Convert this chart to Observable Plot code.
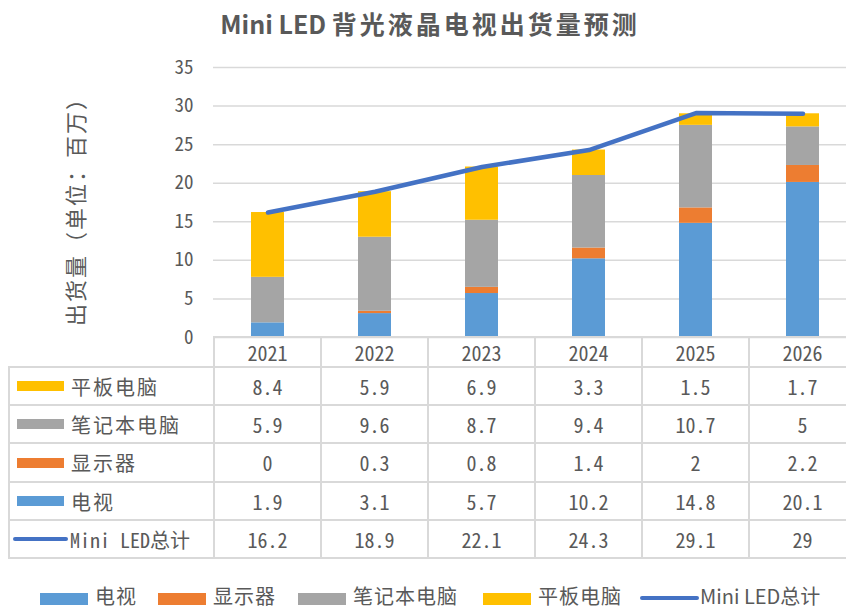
<!DOCTYPE html>
<html>
<head>
<meta charset="utf-8">
<script src="https://cdn.jsdelivr.net/npm/d3@7"></script>
<script src="https://cdn.jsdelivr.net/npm/@observablehq/plot@0.6"></script>
<style>
  html, body { margin: 0; padding: 0; background: #fff; width: 846px; height: 612px; overflow: hidden; }
  body { position: relative; }
  #chart { position: absolute; left: 0; top: 0; width: 860px; }
  #chart svg { max-width: none !important; }
  #title { position: absolute; left: 0; width: 860px; top: 5px; text-align: center; font-family: "Noto Sans CJK SC", sans-serif; font-weight: bold; font-size: 25px; color: #595959; white-space: nowrap; }
  #title .cjk { letter-spacing: 3px; }
  #ylabel { position: absolute; left: 74px; top: 206px; transform: translate(-50%, -50%) rotate(-90deg); font-family: "Noto Sans CJK SC", sans-serif; font-size: 22px; letter-spacing: 2px; color: #595959; white-space: nowrap; }
  .hline { position: absolute; height: 2px; background: #D9D9D9; }
  .vline { position: absolute; width: 2px; background: #D9D9D9; }
  .cell { position: absolute; display: flex; align-items: center; justify-content: center; font-family: "Noto Sans Mono CJK SC", "DejaVu Sans Mono", "Noto Sans CJK SC", monospace; font-size: 20px; color: #595959; white-space: nowrap; }
  .lab { position: absolute; display: flex; align-items: center; font-family: "Noto Sans Mono CJK SC", "DejaVu Sans Mono", "Noto Sans CJK SC", monospace; font-size: 20px; color: #595959; white-space: nowrap; }
  .leg { position: absolute; top: 586px; height: 20px; display: flex; align-items: center; font-family: "Noto Sans CJK SC", sans-serif; font-size: 20px; line-height: 20px; color: #595959; white-space: nowrap; }
  .leg span { line-height: 20px; }
</style>
</head>
<body>
<div id="chart"></div>
<div id="title"></div>
<div id="ylabel"></div>
<div id="table"></div>
<div id="legend"></div>
<script>
// ---- data ----
const titleLatin = "Mini LED ";
const titleCjk = "背光液晶电视出货量预测";
const yLabel = "出货量（单位：百万）";
const years = ["2021", "2022", "2023", "2024", "2025", "2026"];
const seriesNames = ["电视", "显示器", "笔记本电脑", "平板电脑"];
const lineName = "Mini LED总计";
const tvValues = [1.9, 3.1, 5.7, 10.2, 14.8, 20.1];
const monitorValues = [0, 0.3, 0.8, 1.4, 2, 2.2];
const laptopValues = [5.9, 9.6, 8.7, 9.4, 10.7, 5];
const tabletValues = [8.4, 5.9, 6.9, 3.3, 1.5, 1.7];
const totalValues = [16.2, 18.9, 22.1, 24.3, 29.1, 29];
const yTicks = [0, 5, 10, 15, 20, 25, 30, 35];
const seriesColors = ["#5B9BD5", "#ED7D31", "#A5A5A5", "#FFC000"];
const lineColor = "#4472C4";

const seriesValues = [tvValues, monitorValues, laptopValues, tabletValues];
const stacked = years.flatMap((yr, i) => seriesNames.map((s, k) => ({year: yr, series: s, value: seriesValues[k][i]})));
const totals = years.map((yr, i) => ({year: yr, total: totalValues[i]}));

const monoFont = '"Noto Sans Mono CJK SC", "DejaVu Sans Mono", "Noto Sans CJK SC", monospace';

const chart = Plot.plot({
  width: 860,
  height: 340,
  marginTop: 67,
  marginBottom: 3,
  marginLeft: 213,
  marginRight: 4,
  x: {domain: years, padding: 0, axis: null},
  y: {domain: [0, 35], ticks: yTicks, tickSize: 0, tickPadding: 20, label: null},
  color: {domain: seriesNames, range: seriesColors},
  style: {fontFamily: monoFont, fontSize: "19px", color: "#595959", background: "transparent", overflow: "visible", maxWidth: "none"},
  marks: [
    Plot.ruleY(yTicks, {stroke: "#D9D9D9", strokeWidth: 1.5}),
    Plot.barY(stacked, {x: "year", y: "value", fill: "series", insetLeft: 37, insetRight: 37}),
    Plot.lineY(totals, {x: "year", y: "total", stroke: lineColor, strokeWidth: 4.5, strokeLinecap: "round", strokeLinejoin: "round"})
  ]
});
document.getElementById("chart").appendChild(chart);

// title & y label
const t = document.getElementById("title");
t.textContent = titleLatin;
const sp = document.createElement("span"); sp.className = "cjk"; sp.textContent = titleCjk; t.appendChild(sp);
document.getElementById("ylabel").textContent = yLabel;

// ---- data table aligned to the x band scale ----
const xs = chart.scale("x");
const bw = xs.bandwidth;
const colLeft = years.map(y => xs.apply(y));
const x0 = colLeft[0];
const xEnd = colLeft[colLeft.length - 1] + bw;
const tableLeft = 9;
const rowEdges = [337, 367, 405, 443, 482, 520, 558];
const tableEl = document.getElementById("table");
function add(cls, css, text) {
  const d = document.createElement("div");
  d.className = cls;
  Object.assign(d.style, css);
  if (text !== undefined) d.textContent = text;
  tableEl.appendChild(d);
  return d;
}
rowEdges.forEach((y, r) => {
  const l = r === 0 ? x0 : tableLeft;
  add("hline", {left: (l - 1) + "px", top: (y - 1) + "px", width: (xEnd - l + 2) + "px"});
});
add("vline", {left: (tableLeft - 1) + "px", top: (rowEdges[1] - 1) + "px", height: (rowEdges[6] - rowEdges[1] + 2) + "px"});
[x0, ...colLeft.slice(1), xEnd].forEach(x => {
  add("vline", {left: (x - 1) + "px", top: (rowEdges[0] - 1) + "px", height: (rowEdges[6] - rowEdges[0] + 2) + "px"});
});
years.forEach((yr, i) => add("cell", {left: colLeft[i] + "px", top: rowEdges[0] + "px", width: bw + "px", height: (rowEdges[1] - rowEdges[0]) + "px"}, yr));
const rows = [
  {name: seriesNames[3], values: tabletValues, color: seriesColors[3]},
  {name: seriesNames[2], values: laptopValues, color: seriesColors[2]},
  {name: seriesNames[1], values: monitorValues, color: seriesColors[1]},
  {name: seriesNames[0], values: tvValues, color: seriesColors[0]},
  {name: lineName, values: totalValues, color: lineColor, line: true}
];
rows.forEach((row, r) => {
  const top = rowEdges[r + 1], h = rowEdges[r + 2] - rowEdges[r + 1];
  row.values.forEach((v, i) => add("cell", {left: colLeft[i] + "px", top: top + "px", width: bw + "px", height: h + "px"}, String(v)));
  const lab = add("lab", {left: (row.line ? 13 : 17) + "px", top: top + "px", height: h + "px"});
  const sw = document.createElement("span");
  if (row.line) {
    Object.assign(sw.style, {display: "inline-block", width: "55px", height: "4.5px", borderRadius: "3px", background: row.color, marginRight: "2px"});
  } else {
    Object.assign(sw.style, {display: "inline-block", width: "47px", height: "10px", background: row.color, marginRight: "7px"});
  }
  lab.appendChild(sw);
  const tx = document.createElement("span");
  tx.textContent = row.name;
  if (!row.line) tx.style.letterSpacing = "2px";
  lab.appendChild(tx);
});

// ---- legend ----
const legendEl = document.getElementById("legend");
const legendItems = [
  {name: seriesNames[0], color: seriesColors[0], left: 40},
  {name: seriesNames[1], color: seriesColors[1], left: 158},
  {name: seriesNames[2], color: seriesColors[2], left: 298},
  {name: seriesNames[3], color: seriesColors[3], left: 483},
  {name: lineName, color: lineColor, left: 640, line: true}
];
legendItems.forEach(it => {
  const d = document.createElement("div");
  d.className = "leg";
  d.style.left = it.left + "px";
  const sw = document.createElement("span");
  if (it.line) {
    Object.assign(sw.style, {display: "inline-block", width: "59px", height: "4.5px", borderRadius: "3px", background: it.color, marginRight: "1px", marginTop: "4px"});
  } else {
    Object.assign(sw.style, {display: "inline-block", width: "48px", height: "12px", background: it.color, marginRight: "7px", marginTop: "6px"});
  }
  d.appendChild(sw);
  const tx = document.createElement("span");
  tx.textContent = it.name;
  if (!it.line) tx.style.letterSpacing = "1px";
  d.appendChild(tx);
  legendEl.appendChild(d);
});
</script>
</body>
</html>
